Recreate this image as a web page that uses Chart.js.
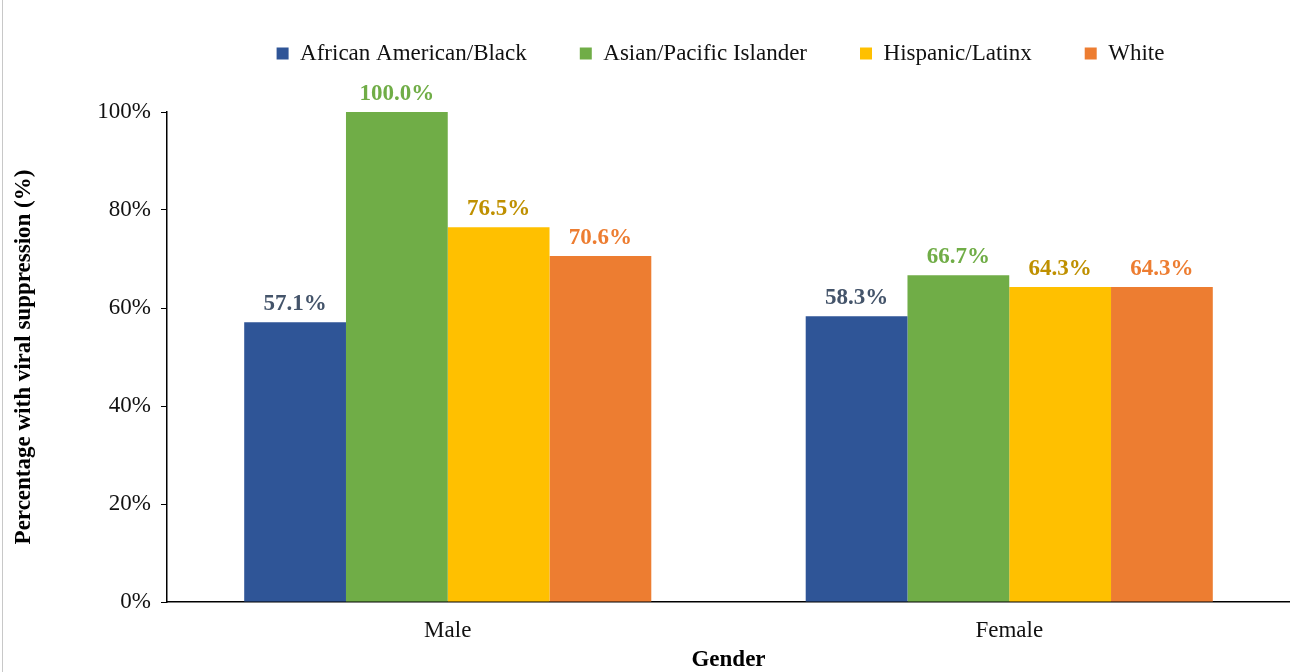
<!DOCTYPE html>
<html>
<head>
<meta charset="utf-8">
<script src="https://cdn.jsdelivr.net/npm/chart.js@4/dist/chart.umd.min.js"></script>
<style>
    html, body { margin: 0; padding: 0; background: #fff; }
    #wrap { position: relative; width: 1290px; height: 672px; }
    #edge { position: absolute; left: 2px; top: 0; width: 1px; height: 672px; background: #c8c8c8; }
</style>
</head>
<body>
<div id="wrap">
    <canvas id="chart" width="1290" height="672"></canvas>
    <div id="edge"></div>
</div>
<script>
const genders = ["Male", "Female"];
const groupNames = ["African American/Black", "Asian/Pacific Islander", "Hispanic/Latinx", "White"];
const blackValues = [57.1, 58.3];
const asianValues = [100.0, 66.7];
const hispanicValues = [76.5, 64.3];
const whiteValues = [70.6, 64.3];
const yTicks = [0, 20, 40, 60, 80, 100];

const barColors = ["#2F5597", "#70AD47", "#FFC000", "#ED7D31"];
const labelColors = ["#44546A", "#70AD47", "#BF9000", "#ED7D31"];
const serif = "'Liberation Serif', 'Times New Roman', serif";

const seriesValues = [blackValues, asianValues, hispanicValues, whiteValues];

// value labels above each bar
const barLabels = {
    id: "barLabels",
    afterDatasetsDraw(chart) {
        const ctx = chart.ctx;
        ctx.save();
        ctx.font = "bold 23px " + serif;
        ctx.textAlign = "center";
        ctx.textBaseline = "alphabetic";
        chart.data.datasets.forEach((ds, i) => {
            const meta = chart.getDatasetMeta(i);
            ctx.fillStyle = labelColors[i];
            meta.data.forEach((bar, j) => {
                ctx.fillText(ds.data[j].toFixed(1) + "%", bar.x, bar.y - 12);
            });
        });
        ctx.restore();
    }
};

// lift the legend row up, leaving the gap above the plot
const legendLift = {
    id: "legendLift",
    afterLayout(chart) {
        const lg = chart.legend;
        if (lg) {
            lg.top -= 37;
            lg.bottom -= 37;
            lg.left -= 8;
            lg.right -= 8;
        }
    }
};

new Chart(document.getElementById("chart"), {
    type: "bar",
    data: {
        labels: genders,
        datasets: groupNames.map((name, i) => ({
            label: name,
            data: seriesValues[i],
            backgroundColor: barColors[i],
            borderWidth: 0,
            categoryPercentage: 0.725,
            barPercentage: 1.0
        }))
    },
    options: {
        responsive: false,
        animation: false,
        layout: { padding: { top: 26, right: 0, left: 0, bottom: 0 } },
        plugins: {
            legend: {
                position: "top",
                fullSize: false,
                labels: {
                    font: { family: serif, size: 23 },
                    color: "#111",
                    boxWidth: 12,
                    boxHeight: 12,
                    padding: 53
                }
            },
            tooltip: { enabled: false }
        },
        scales: {
            x: {
                grid: { display: false, drawTicks: false },
                border: { display: true, color: "#000", width: 1.5 },
                ticks: {
                    font: { family: serif, size: 23 },
                    color: "#111",
                    padding: 15
                },
                title: {
                    display: true,
                    text: "Gender",
                    font: { family: serif, size: 23, weight: "bold", lineHeight: 1.0 },
                    color: "#000",
                    padding: { top: 0, bottom: 0 }
                },
                afterFit(scale) { scale.height = 70; }
            },
            y: {
                min: 0,
                max: 100,
                afterBuildTicks(scale) {
                    scale.ticks = yTicks.map(v => ({ value: v }));
                },
                grid: {
                    display: true,
                    drawOnChartArea: false,
                    drawTicks: true,
                    tickLength: 6,
                    color: "#000"
                },
                border: { display: true, color: "#000", width: 1.5 },
                ticks: {
                    font: { family: serif, size: 23 },
                    color: "#111",
                    padding: 10,
                    callback: v => v + "%"
                },
                title: {
                    display: true,
                    text: "Percentage with viral suppression (%)",
                    font: { family: serif, size: 23, weight: "bold" },
                    color: "#000",
                    padding: { top: 10, bottom: 0 }
                },
                afterFit(scale) { scale.width = 167; }
            }
        }
    },
    plugins: [barLabels, legendLift]
});
</script>
</body>
</html>
